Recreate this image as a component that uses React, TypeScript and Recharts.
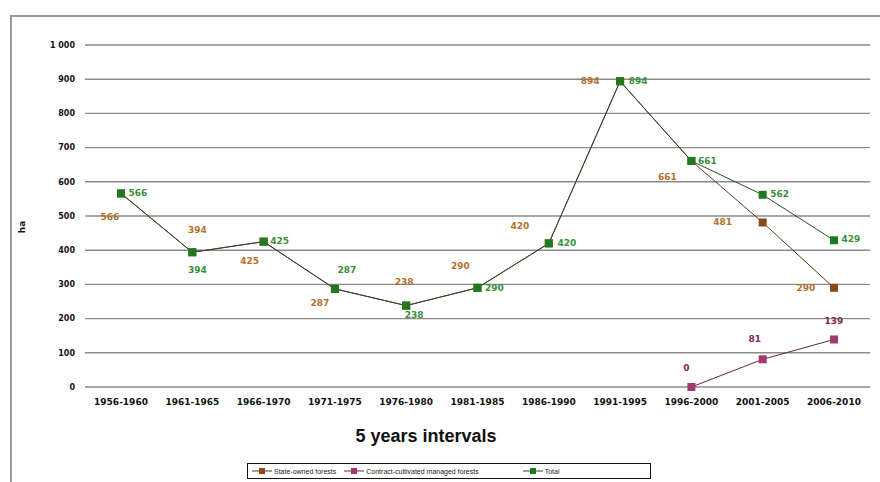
import React from "react";
import { LineChart, Line, XAxis, YAxis, CartesianGrid } from "recharts";

const periods = [
  "1956-1960", "1961-1965", "1966-1970", "1971-1975", "1976-1980", "1981-1985",
  "1986-1990", "1991-1995", "1996-2000", "2001-2005", "2006-2010",
];
const stateOwned = [566, 394, 425, 287, 238, 290, 420, 894, 661, 481, 290];
const contractManaged: (number | null)[] = [null, null, null, null, null, null, null, null, 0, 81, 139];
const total = [566, 394, 425, 287, 238, 290, 420, 894, 661, 562, 429];
const yTicks = [0, 100, 200, 300, 400, 500, 600, 700, 800, 900, 1000];

// label placement (text centre relative to the point)
const totalLabelOffsets = [
  [17, 0], [5, 18], [16, -1], [12, -19], [8, 9], [17, 0],
  [18, 0], [18, 0], [16, 0], [17, -1], [17, -1],
];
const stateLabelOffsets = [
  [-11, 24], [5, -22], [-14, 19], [-15, 14], [-2, -24], [-17, -22],
  [-29, -17], [-30, 0], [-24, 16], [-40, 0], [-28, 0],
];
const contractLabelOffsets = [
  [0, 0], [0, 0], [0, 0], [0, 0], [0, 0], [0, 0],
  [0, 0], [0, 0], [-5, -19], [-8, -20], [0, -18],
];

const COLORS = {
  state: { line: "#5e3b1c", dot: "#8a4a1c", label: "#b2702f" },
  contract: { line: "#5c2a4c", dot: "#a03a6c", label: "#7e2a5c" },
  total: { line: "#2e4a2e", dot: "#1e7a1e", label: "#3a8f3a" },
};

const data = periods.map((p, i) => ({
  period: p,
  state: stateOwned[i],
  contract: contractManaged[i],
  total: total[i],
}));

const squareDot = (fill: string) => (props: any) => {
  const { cx, cy, index, value } = props;
  if (value == null || cx == null || cy == null) return <g key={`d-${index}`} />;
  return <rect key={`d-${index}`} x={cx - 4} y={cy - 4} width={8} height={8} fill={fill} />;
};

const offsetLabel = (offsets: number[][], fill: string) => (props: any) => {
  const { x, y, value, index } = props;
  if (value == null || x == null || y == null) return <g key={`l-${index}`} />;
  const [dx, dy] = offsets[index];
  return (
    <text
      key={`l-${index}`}
      x={x + dx}
      y={y + dy}
      textAnchor="middle"
      dominantBaseline="central"
      fontFamily="DejaVu Sans"
      fontWeight="bold"
      fontSize={9}
      fill={fill}
    >
      {value}
    </text>
  );
};

const LegendIcon = ({ line, dot }: { line: string; dot: string }) => (
  <svg width={20} height={8} style={{ marginRight: 2 }}>
    <line x1={0} y1={4} x2={20} y2={4} stroke={line} strokeWidth={1} />
    <rect x={7} y={1} width={6} height={6} fill={dot} />
  </svg>
);

export default function App() {
  return (
    <div style={{ position: "relative", width: 880, height: 482, background: "#fff", overflow: "hidden" }}>
      <style>{"body{margin:0}"}</style>
      <div
        style={{
          position: "absolute", left: 10, top: 15, width: 900, height: 500,
          borderLeft: "2px solid #9a9a9a", borderTop: "2px solid #9a9a9a",
        }}
      />
      <div style={{ position: "absolute", left: 0, top: 0 }}>
        <LineChart width={880} height={482} data={data} margin={{ top: 45, right: 10, left: 0, bottom: 65 }}>
          <CartesianGrid horizontal vertical={false} stroke="#8a8a8a" strokeWidth={1.4} />
          <XAxis
            dataKey="period"
            axisLine={false}
            tickLine={false}
            height={30}
            tickMargin={6}
            padding={{ left: 36, right: 36 }}
            interval={0}
            tick={{ fontSize: 9, fontFamily: "DejaVu Sans", fontWeight: "bold", fill: "#111" }}
          />
          <YAxis
            width={85}
            domain={[0, 1000]}
            ticks={yTicks}
            axisLine={false}
            tickLine={false}
            tickMargin={4}
            tickFormatter={(v: number) => (v >= 1000 ? "1 000" : String(v))}
            tick={{ fontSize: 8, fontFamily: "DejaVu Sans", fontWeight: "bold", fill: "#111" }}
          />
          <Line
            dataKey="state"
            stroke={COLORS.state.line}
            strokeWidth={1}
            dot={squareDot(COLORS.state.dot)}
            label={offsetLabel(stateLabelOffsets, COLORS.state.label)}
            isAnimationActive={false}
          />
          <Line
            dataKey="contract"
            stroke={COLORS.contract.line}
            strokeWidth={1}
            dot={squareDot(COLORS.contract.dot)}
            label={offsetLabel(contractLabelOffsets, COLORS.contract.label)}
            isAnimationActive={false}
          />
          <Line
            dataKey="total"
            stroke={COLORS.total.line}
            strokeWidth={1}
            dot={squareDot(COLORS.total.dot)}
            label={offsetLabel(totalLabelOffsets, COLORS.total.label)}
            isAnimationActive={false}
          />
        </LineChart>
      </div>
      <div
        style={{
          position: "absolute", left: 8, top: 227, transform: "translate(-50%, -50%) rotate(-90deg)",
          marginLeft: 14, fontFamily: "DejaVu Sans", fontWeight: "bold", fontSize: 9, color: "#111",
        }}
      >
        ha
      </div>
      <div
        style={{
          position: "absolute", left: 340, top: 426, width: 172, textAlign: "center",
          fontFamily: "Liberation Sans", fontWeight: "bold", fontSize: 18, color: "#111",
        }}
      >
        5 years intervals
      </div>
      <div
        style={{
          position: "absolute", left: 247, top: 463, width: 404, height: 16, boxSizing: "border-box",
          border: "1px solid #111", display: "flex", alignItems: "center", paddingLeft: 4,
          fontFamily: "Liberation Sans", fontSize: 7, color: "#222", whiteSpace: "nowrap",
        }}
      >
        <LegendIcon line={COLORS.state.line} dot={COLORS.state.dot} />
        <span style={{ marginRight: 8 }}>State-owned forests</span>
        <LegendIcon line={COLORS.contract.line} dot={COLORS.contract.dot} />
        <span style={{ marginRight: 44 }}>Contract-cultivated managed forests</span>
        <LegendIcon line={COLORS.total.line} dot={COLORS.total.dot} />
        <span>Total</span>
      </div>
    </div>
  );
}
